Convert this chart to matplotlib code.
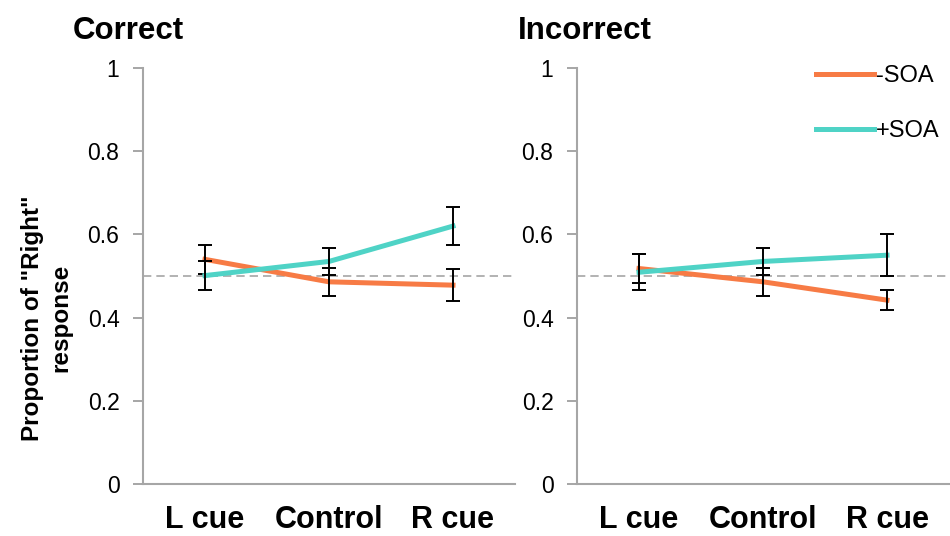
import numpy as np
import matplotlib.pyplot as plt

plt.rcParams['font.family'] = ['Liberation Sans', 'DejaVu Sans']

# condiciones y datos por panel
cues = ["L cue", "Control", "R cue"]
titles = ["Correct", "Incorrect"]

neg_soa = [[0.540, 0.486, 0.478], [0.518, 0.486, 0.442]]
neg_err = [[0.035, 0.034, 0.039], [0.035, 0.034, 0.024]]
pos_soa = [[0.501, 0.535, 0.620], [0.509, 0.535, 0.550]]
pos_err = [[0.035, 0.033, 0.045], [0.043, 0.032, 0.050]]

orange = '#F77B45'
teal = '#4FD3C6'
gris = '#A6A6A6'

fig = plt.figure(figsize=(9.5, 5.36), dpi=100)
lefts = [143 / 950, 577 / 950]
axes = [fig.add_axes([l, 52 / 536, 372 / 950, 416 / 536]) for l in lefts]

x = np.arange(len(cues))
for i, ax in enumerate(axes):
    ax.axhline(0.5, color=gris, ls=(0, (5, 3)), lw=1.2, zorder=1)
    ax.plot(x, neg_soa[i], color=orange, lw=3.6, label='-SOA', zorder=2)
    ax.errorbar(x, neg_soa[i], yerr=neg_err[i], fmt='none', ecolor='black',
                elinewidth=1.4, capsize=5, capthick=1.4, zorder=3)
    ax.plot(x, pos_soa[i], color=teal, lw=3.6, label='+SOA', zorder=4)
    ax.errorbar(x, pos_soa[i], yerr=pos_err[i], fmt='none', ecolor='black',
                elinewidth=1.4, capsize=5, capthick=1.4, zorder=5)

    ax.set_xlim(-0.5, 2.5)
    ax.set_ylim(0, 1)
    ax.set_yticks([0, 0.2, 0.4, 0.6, 0.8, 1])
    ax.set_yticklabels(['0', '0.2', '0.4', '0.6', '0.8', '1'])
    ax.set_xticks(x)
    ax.set_xticklabels(cues, fontsize=22, fontweight='bold')
    ax.tick_params(axis='x', length=0, pad=15)
    ax.tick_params(axis='y', labelsize=16.5, length=7, width=1.4, color=gris, pad=10)
    for s in ['top', 'right']:
        ax.spines[s].set_visible(False)
    for s in ['left', 'bottom']:
        ax.spines[s].set_color(gris)
        ax.spines[s].set_linewidth(1.5)

fig.text(73 / 950, 1 - 31 / 536, titles[0], fontsize=22.5, fontweight='bold', va='center')
fig.text(518 / 950, 1 - 31 / 536, titles[1], fontsize=22.5, fontweight='bold', va='center')
fig.text(47 / 950, 1 - 318 / 536, 'Proportion of "Right"\nresponse', rotation=90,
         fontsize=17.5, fontweight='bold', ha='center', va='center',
         multialignment='center', linespacing=1.3)

axes[1].legend(loc='upper right', bbox_to_anchor=(1.0, 1.03), frameon=False,
               fontsize=17, handlelength=2.45, handletextpad=0.1, labelspacing=1.4,
               borderaxespad=0)

plt.savefig('out.png', dpi=100)
